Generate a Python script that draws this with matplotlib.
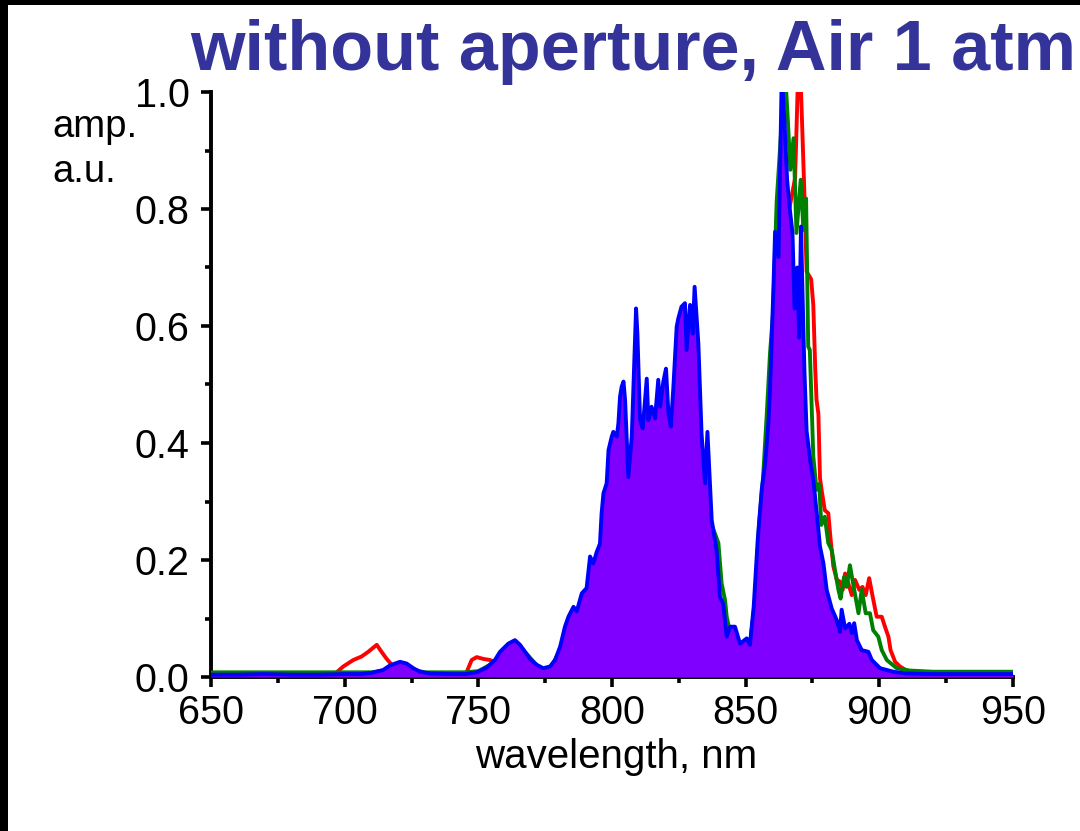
import matplotlib
matplotlib.use("Agg")
import matplotlib.pyplot as plt
from matplotlib.patches import Rectangle
from matplotlib.ticker import MultipleLocator, FormatStrFormatter

plt.rcParams['font.family'] = ['Liberation Sans', 'DejaVu Sans']

# ---- data ----
blue_wl = [650, 660, 670, 680, 690, 700, 706, 710, 714.4, 717, 720.7, 723.2, 725.7, 728.2, 732, 740, 745,
           749.4, 753.1, 756.2, 758.1, 761.2, 763.7, 765.6, 767.5, 769.3, 771.8, 774.3, 776.8, 778.7, 780.6,
           782.4, 783.7, 785.6, 786.8, 788.7, 790.5, 791.8, 793.0, 794.3, 795.5, 796.1, 796.8, 798.0, 798.7,
           799.9, 800.5, 801.8, 802.4, 803.0, 803.6, 804.3, 804.9, 806.1, 807.4, 809.0, 809.5, 810.5, 811.5,
           813.0, 813.6, 814.8, 816.1, 817.3, 818.0, 819.2, 820.2, 821.1, 822.0, 822.9, 824.2, 824.8, 826.0,
           827.3, 827.9, 829.2, 830.2, 830.9, 832.3, 833.5, 834.8, 835.7, 837.3, 837.9, 839.1, 840.4, 841.6,
           842.9, 844.2, 846.0, 847.9, 850.4, 851.6, 853.0, 854.5, 856.0, 857.3, 858.5, 859.1, 860.4, 861.0,
           862.3, 863.5, 864.5, 865.5, 866.5, 867.5, 868.3, 869.3, 870.0, 870.7, 871.3, 872.0, 872.8, 874.3,
           875.3, 876.6, 877.8, 879.1, 880.3, 882.2, 884.1, 885.3, 885.9, 887.2, 888.8, 889.7, 890.6, 891.6,
           893.4, 895.9, 897.2, 900.3, 905.3, 910, 920, 930, 940, 950]
blue_amp = [0.004, 0.004, 0.005, 0.004, 0.004, 0.005, 0.005, 0.007, 0.012, 0.020, 0.026, 0.023, 0.015, 0.009,
            0.006, 0.005, 0.005, 0.008, 0.016, 0.029, 0.043, 0.057, 0.063, 0.055, 0.043, 0.031, 0.021, 0.015,
            0.018, 0.029, 0.052, 0.086, 0.103, 0.120, 0.112, 0.143, 0.152, 0.206, 0.194, 0.214, 0.228, 0.279,
            0.314, 0.331, 0.388, 0.411, 0.419, 0.411, 0.434, 0.479, 0.496, 0.505, 0.473, 0.342, 0.411, 0.630,
            0.587, 0.439, 0.425, 0.510, 0.439, 0.462, 0.442, 0.508, 0.462, 0.505, 0.527, 0.451, 0.428, 0.491,
            0.599, 0.613, 0.633, 0.639, 0.559, 0.636, 0.587, 0.667, 0.570, 0.416, 0.331, 0.419, 0.268, 0.251,
            0.217, 0.137, 0.125, 0.069, 0.086, 0.086, 0.057, 0.066, 0.055, 0.120, 0.234, 0.320, 0.366, 0.434,
            0.490, 0.667, 0.761, 0.718, 1.030, 0.950, 0.850, 0.800, 0.760, 0.630, 0.700, 0.580, 0.770, 0.650,
            0.520, 0.420, 0.365, 0.337, 0.280, 0.223, 0.194, 0.149, 0.117, 0.097, 0.077, 0.115, 0.083, 0.091,
            0.075, 0.092, 0.063, 0.046, 0.043, 0.029, 0.015, 0.009, 0.006, 0.005, 0.005, 0.005, 0.005]

green_wl = [650, 670, 690, 700, 710, 716, 721, 725, 730, 745, 750, 756, 763.7, 768, 773, 777, 780.6, 785, 790,
            795, 800, 806, 810, 820, 822, 825, 829, 833, 834.8, 836, 837.3, 839.8, 841.0, 842.3, 842.9, 844,
            846, 848, 850.4, 851.6, 853.5, 855, 856.5, 857.9, 859.1, 860.2, 861.6, 863.5, 864.8, 865.8, 866.7,
            867.9, 869.0, 870.6, 871.6, 872.6, 873.4, 874.0, 875.3, 876.5, 877.5, 878.3, 879.6, 880.9, 882.2,
            883.4, 884.7, 885.5, 886.8, 887.8, 889.0, 890.6, 892.2, 893.4, 894.9, 896.5, 897.7, 899.6, 900.9,
            902.8, 906.5, 911.4, 920, 935, 950]
green_amp = [0.008, 0.008, 0.008, 0.008, 0.008, 0.012, 0.020, 0.013, 0.008, 0.008, 0.010, 0.025, 0.058, 0.040,
             0.014, 0.015, 0.045, 0.095, 0.135, 0.200, 0.300, 0.300, 0.380, 0.400, 0.400, 0.520, 0.530, 0.350,
             0.300, 0.280, 0.260, 0.229, 0.160, 0.131, 0.103, 0.080, 0.075, 0.055, 0.060, 0.055, 0.130, 0.260,
             0.340, 0.450, 0.553, 0.620, 0.813, 0.950, 1.030, 0.950, 0.867, 0.921, 0.759, 0.850, 0.764, 0.818,
             0.565, 0.559, 0.377, 0.320, 0.330, 0.260, 0.274, 0.229, 0.217, 0.183, 0.149, 0.134, 0.171, 0.154,
             0.191, 0.149, 0.109, 0.149, 0.109, 0.109, 0.080, 0.069, 0.046, 0.029, 0.015, 0.011, 0.009, 0.009,
             0.009]

red_wl = [650, 670, 690, 696, 699.5, 703.2, 706.3, 708.8, 712.0, 713.8, 715.7, 717.6, 720, 725, 730, 744,
          745.6, 747.5, 749.4, 751.8, 754.4, 756.2, 760, 764, 768, 772, 775, 777, 780, 785, 790, 795, 800, 806,
          810, 820, 824, 829, 833, 837, 840, 843, 848, 851.6, 854, 856, 858, 860, 862, 864, 866.3, 868.5, 869.6,
          870.5, 871.9, 872.8, 874.5, 875.3, 876.0, 876.5, 877.2, 877.8, 878.4, 879.6, 880.9, 881.8, 882.8,
          884.1, 885.3, 886.3, 887.2, 888.4, 889.7, 890.9, 892.5, 893.7, 894.9, 896.2, 897.4, 899.0, 900.9,
          902.1, 903.4, 904.2, 905.9, 907.7, 912, 920, 950]
red_amp = [0.003, 0.003, 0.003, 0.004, 0.018, 0.029, 0.035, 0.043, 0.055, 0.043, 0.031, 0.021, 0.012, 0.006,
           0.004, 0.004, 0.008, 0.029, 0.034, 0.031, 0.029, 0.025, 0.040, 0.050, 0.035, 0.015, 0.012, 0.015,
           0.040, 0.090, 0.130, 0.190, 0.280, 0.280, 0.350, 0.380, 0.400, 0.500, 0.300, 0.200, 0.120, 0.060,
           0.050, 0.050, 0.150, 0.280, 0.380, 0.550, 0.650, 0.720, 0.800, 0.853, 1.030, 1.030, 0.836, 0.693,
           0.680, 0.636, 0.530, 0.474, 0.450, 0.340, 0.320, 0.285, 0.280, 0.234, 0.189, 0.166, 0.163, 0.149,
           0.177, 0.160, 0.140, 0.166, 0.149, 0.154, 0.140, 0.169, 0.140, 0.103, 0.103, 0.086, 0.069, 0.046,
           0.026, 0.018, 0.006, 0.003, 0.003]

x_ticks = [650, 700, 750, 800, 850, 900, 950]
y_ticks = [0.0, 0.2, 0.4, 0.6, 0.8, 1.0]
title_text = "without aperture, Air 1 atm"
x_label = "wavelength, nm"
y_label_lines = ["amp.", "a.u."]

# ---- figure ----
W, H = 1080, 831
fig = plt.figure(figsize=(W / 100, H / 100), dpi=100)
fig.patch.set_facecolor('white')

ax = fig.add_axes([211 / W, 1 - 677 / H, (1013 - 211) / W, (677 - 92) / H])

lw = 2.8
ax.plot(red_wl, red_amp, color='#ff0000', lw=lw, zorder=2)
ax.plot(green_wl, green_amp, color='#008000', lw=lw, zorder=3)
ax.fill_between(blue_wl, 0, blue_amp, color='#8000ff', lw=0, zorder=4)
ax.plot(blue_wl, blue_amp, color='#0000ff', lw=lw, zorder=5)

ax.set_xlim(650, 950)
ax.set_ylim(0, 1.0)
ax.set_xticks(x_ticks)
ax.set_yticks(y_ticks)
ax.xaxis.set_minor_locator(MultipleLocator(25))
ax.yaxis.set_minor_locator(MultipleLocator(0.1))
ax.yaxis.set_major_formatter(FormatStrFormatter('%.1f'))

for s in ['top', 'right']:
    ax.spines[s].set_visible(False)
for s in ['left', 'bottom']:
    ax.spines[s].set_linewidth(2.8)
    ax.spines[s].set_color('black')

ax.tick_params(axis='both', which='major', direction='out', length=7.5, width=2.6,
               labelsize=28.5, colors='black')
ax.tick_params(axis='both', which='minor', direction='out', length=4, width=2.6)
ax.tick_params(axis='x', which='major', pad=5)
ax.tick_params(axis='y', which='major', pad=8)

fig.text(616 / W, 1 - 768 / H, x_label, ha='center', va='baseline', fontsize=29)
fig.text(52 / W, 1 - 137 / H, y_label_lines[0], ha='left', va='baseline', fontsize=27.5)
fig.text(52 / W, 1 - 182 / H, y_label_lines[1], ha='left', va='baseline', fontsize=27.5)

fig.text(190 / W, 1 - 70 / H, title_text, ha='left', va='baseline', fontsize=50.5,
         fontweight='bold', color='#333399')

# black frame strips at left and top
fig.patches.append(Rectangle((0, 0), 8 / W, 1, transform=fig.transFigure,
                             facecolor='black', edgecolor='none', zorder=10))
fig.patches.append(Rectangle((0, 1 - 5 / H), 1, 5 / H, transform=fig.transFigure,
                             facecolor='black', edgecolor='none', zorder=10))

fig.savefig('out.png', dpi=100)
